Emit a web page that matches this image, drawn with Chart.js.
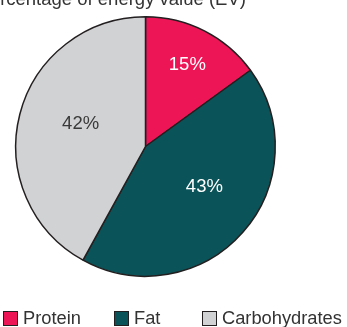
<!DOCTYPE html>
<html>
<head>
<meta charset="utf-8">
<script src="https://cdn.jsdelivr.net/npm/chart.js@4"></script>
<style>
  html, body { margin: 0; padding: 0; background: #fff; }
  #wrap { position: relative; width: 347px; height: 327px; overflow: hidden; }
  #legend {
    position: absolute; left: 3px; top: 307px; height: 21px;
    display: grid; grid-template-columns: 111px 88px auto;
    font: 18.3px "Liberation Sans", Arial, Helvetica, sans-serif; color: #333;
  }
  .legend-item { display: flex; align-items: center; white-space: nowrap; }
  .legend-box {
    box-sizing: border-box; width: 15px; height: 15px; margin-right: 5px;
    border: 1.5px solid #231f20;
  }
</style>
</head>
<body>
<div id="wrap">
  <canvas id="energy-chart" width="347" height="327"></canvas>
  <div id="legend"></div>
</div>
<script>
"use strict";

const TITLE = "Percentage of energy value (EV)";
const categories = ["Protein", "Fat", "Carbohydrates"];
const values = [15, 43, 42];
const sliceColors = ["#ee1556", "#0a5459", "#d1d2d4"];
const labelColors = ["#ffffff", "#ffffff", "#3a3a3a"];
// where each percent label sits inside its slice
const labelRadius = [0.71, 0.55, 0.53];
const labelShift = [0, -7, 5];

const FONT = '"Liberation Sans", Arial, Helvetica, sans-serif';

const sliceLabels = {
  id: "sliceLabels",
  afterDatasetsDraw(chart) {
    const { ctx } = chart;
    const meta = chart.getDatasetMeta(0);
    ctx.save();
    ctx.font = `18.5px ${FONT}`;
    ctx.textAlign = "center";
    ctx.textBaseline = "middle";
    meta.data.forEach((arc, i) => {
      const { x, y, startAngle, endAngle, outerRadius } = arc.getProps(
        ["x", "y", "startAngle", "endAngle", "outerRadius"],
        true
      );
      const mid = (startAngle + endAngle) / 2 + (labelShift[i] * Math.PI) / 180;
      const r = outerRadius * labelRadius[i];
      ctx.fillStyle = labelColors[i];
      ctx.fillText(`${values[i]}%`, x + Math.cos(mid) * r, y + Math.sin(mid) * r);
    });
    ctx.restore();
  },
};

// the title is cut off by the top and left edge in the original
const clippedTitle = {
  id: "clippedTitle",
  afterDraw(chart) {
    const { ctx } = chart;
    ctx.save();
    ctx.font = `18.5px ${FONT}`;
    ctx.fillStyle = "#333333";
    ctx.textBaseline = "alphabetic";
    ctx.fillText(TITLE, -22.5, 5);
    ctx.restore();
  },
};

const renderLegend = (chart, container) => {
  container.innerHTML = "";
  chart.data.labels.forEach((label, i) => {
    const item = document.createElement("div");
    item.className = "legend-item";
    const box = document.createElement("span");
    box.className = "legend-box";
    box.style.background = chart.data.datasets[0].backgroundColor[i];
    const text = document.createElement("span");
    text.textContent = label;
    item.appendChild(box);
    item.appendChild(text);
    container.appendChild(item);
  });
};

const chart = new Chart(document.getElementById("energy-chart"), {
  type: "pie",
  data: {
    labels: categories,
    datasets: [
      {
        data: values,
        backgroundColor: sliceColors,
        borderColor: "#231f20",
        borderWidth: 1.5,
      },
    ],
  },
  options: {
    responsive: false,
    animation: false,
    devicePixelRatio: 1,
    layout: {
      padding: { left: 0, right: 56, top: 16, bottom: 50 },
    },
    plugins: {
      tooltip: { enabled: false },
      legend: { display: false },
    },
  },
  plugins: [sliceLabels, clippedTitle],
});

renderLegend(chart, document.getElementById("legend"));
</script>
</body>
</html>
